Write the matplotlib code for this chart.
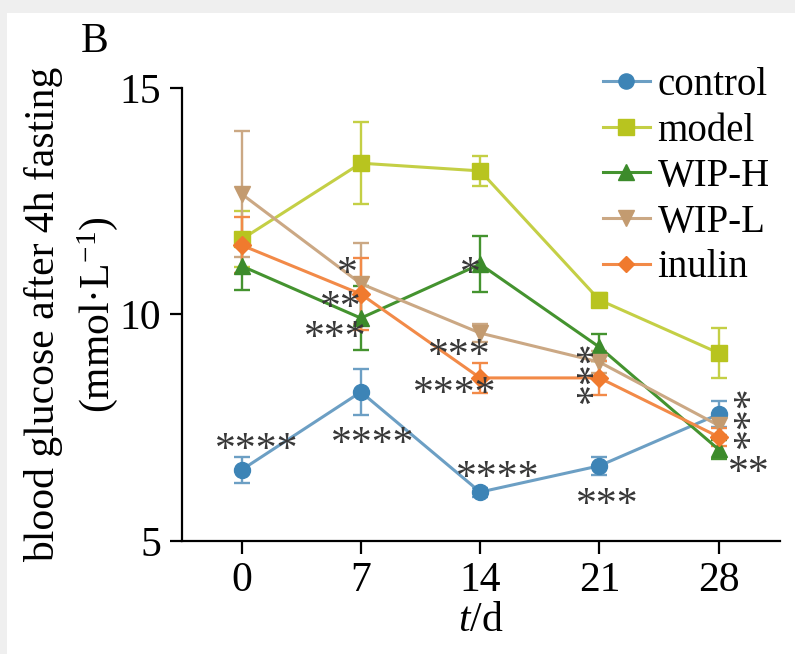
import matplotlib
matplotlib.use("Agg")
import matplotlib.pyplot as plt
from matplotlib.patches import Rectangle
from matplotlib.transforms import ScaledTranslation

plt.rcParams['font.family'] = ['Liberation Serif', 'DejaVu Serif']
plt.rcParams['mathtext.fontset'] = 'custom'
plt.rcParams['mathtext.rm'] = 'Liberation Serif'
plt.rcParams['mathtext.it'] = 'Liberation Serif:italic'

days = [0, 7, 14, 21, 28]
groups = ['control', 'model', 'WIP-H', 'WIP-L', 'inulin']

control = [6.57, 8.29, 6.08, 6.66, 7.80]
control_err = [0.29, 0.50, 0.10, 0.20, 0.28]
model = [11.66, 13.34, 13.17, 10.32, 9.15]
model_err = [0.62, 0.90, 0.33, 0.15, 0.55]
wip_h = [11.07, 9.92, 11.11, 9.28, 7.02]
wip_h_err = [0.52, 0.70, 0.62, 0.30, 0.20]
wip_l = [12.66, 10.68, 9.59, 8.95, 7.55]
wip_l_err = [1.40, 0.90, 0.20, 0.25, 0.20]
inulin = [11.53, 10.45, 8.60, 8.60, 7.30]
inulin_err = [0.62, 0.80, 0.33, 0.38, 0.20]

values = [control, model, wip_h, wip_l, inulin]
errors = [control_err, model_err, wip_h_err, wip_l_err, inulin_err]
markers = ['o', 's', '^', 'v', 'D']
msizes = [11.5, 11.5, 11.5, 11.5, 9]
colors = ['#3d84b6', '#b8c41f', '#3c8b2b', '#c39b70', '#f07a2e']
line_colors = ['#6c9fc4', '#c4cf45', '#44932f', '#cba884', '#f28a48']

# significance marks: (text, day, value, rotation)
stars = [
    ('****', 0.88, 7.19, 0), ('****', 7.67, 7.32, 0),
    ('****', 15.06, 6.57, 0), ('***', 21.44, 5.97, 0),
    ('*', 6.21, 11.09, 0), ('**', 5.8, 10.32, 0), ('***', 5.5, 9.66, 0),
    ('*', 13.4, 11.09, 0), ('***', 12.8, 9.28, 0), ('****', 12.5, 8.44, 0),
    ('***', 20.1, 8.73, 90), ('***', 29.35, 7.75, 90), ('**', 29.8, 6.68, 0),
]

fig = plt.figure(figsize=(7.95, 6.54), dpi=100)
fig.patch.set_facecolor('#efefef')
fig.patches.append(Rectangle((7 / 795, 0), 1, 1 - 13 / 654, transform=fig.transFigure,
                             facecolor='white', edgecolor='none', zorder=-10))

ax = fig.add_axes([182 / 795, 1 - 541 / 654, (780 - 182) / 795, (541 - 88) / 654])
ax.set_facecolor('none')
ax.set_zorder(5)

handles = []
for vals, errs, m, ms, c, lc, name in zip(values, errors, markers, msizes, colors, line_colors, groups):
    cont = ax.errorbar(days, vals, yerr=errs, fmt='-', marker=m, markersize=ms,
                       color=lc, markerfacecolor=c, markeredgecolor=c, ecolor=lc,
                       linewidth=2.2, elinewidth=1.7, capsize=6, capthick=1.7, label=name)
    handles.append(cont[0])

star_size = 30
shift = 0.22 * star_size / 72
for s, d, v, rot in stars:
    if rot:
        off = ScaledTranslation(shift, 0, fig.dpi_scale_trans)
    else:
        off = ScaledTranslation(0, -shift, fig.dpi_scale_trans)
    ax.text(d, v, s, ha='center', va='center', rotation=rot, fontsize=star_size,
            color='#383838', transform=ax.transData + off)

ax.set_xlim(-3.5, 31.6)
ax.set_ylim(5, 15)
ax.set_xticks(days)
ax.set_yticks([5, 10, 15])
for side in ['top', 'right']:
    ax.spines[side].set_visible(False)
for side in ['left', 'bottom']:
    ax.spines[side].set_linewidth(1.6)
ax.tick_params(axis='both', labelsize=30, width=1.6, length=9, pad=6)

ax.set_xlabel('$t$/d', fontsize=30, labelpad=1)
ax.set_ylabel('blood glucose after 4h fasting\n(mmol\u00b7L$^{-1}$)', fontsize=30,
              linespacing=1.35, labelpad=0)

fig.text(95 / 795, 1 - 42 / 654, 'B', fontsize=30, ha='center', va='center')

ax.legend(handles=handles, labels=groups, loc='upper left',
          bbox_to_anchor=(603 / 795, 1 - 67 / 654), bbox_transform=fig.transFigure,
          frameon=False, fontsize=28, borderpad=0, borderaxespad=0,
          handlelength=1.2, handletextpad=0.2, labelspacing=0.22, markerscale=0.95)

fig.savefig('out.png', dpi=100, facecolor=fig.get_facecolor())
